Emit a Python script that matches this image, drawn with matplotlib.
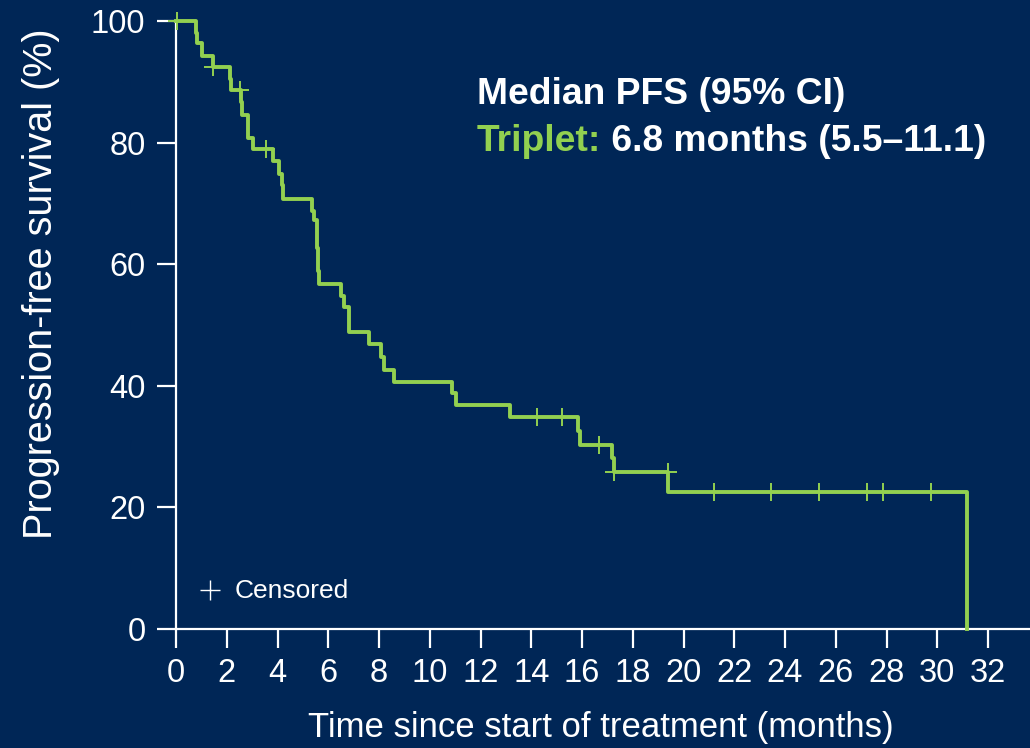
import numpy as np
import matplotlib
matplotlib.use('Agg')
from matplotlib import pyplot as plt

# Kaplan-Meier step curve: event times (months) and survival (%) after each drop
event_times = [0.0, 0.78, 0.82, 1.01, 1.44, 2.13, 2.17, 2.55, 2.62, 2.85, 3.05,
               3.83, 4.06, 4.19, 4.23, 5.34, 5.45, 5.54, 5.60, 5.64, 6.49, 6.64,
               6.82, 7.62, 8.08, 8.21, 8.59, 10.86, 11.05, 13.16, 15.83, 15.94,
               17.20, 17.25, 19.40, 31.19]
survival = [100.0, 98.0, 96.3, 94.3, 92.4, 90.5, 88.6, 86.7, 84.6, 80.8, 78.9,
            76.9, 74.9, 73.0, 70.8, 68.8, 67.2, 62.7, 58.8, 56.8, 54.8, 52.9,
            48.8, 46.9, 44.8, 42.6, 40.7, 38.8, 36.8, 34.8, 32.6, 30.3,
            28.1, 25.8, 22.6, 0.0]

# censoring times (months)
censor_times = [0.03, 1.47, 2.52, 3.55, 14.21, 15.23, 16.67, 17.28, 19.37,
                21.19, 23.45, 25.33, 27.22, 27.86, 29.74]

x_ticks = list(range(0, 33, 2))
y_ticks = [0, 20, 40, 60, 80, 100]

BG = '#002656'
GREEN = '#92D050'
WHITE = 'white'

plt.rcParams['font.family'] = ['Liberation Sans', 'DejaVu Sans']

fig = plt.figure(figsize=(10.30, 7.48), dpi=100, facecolor=BG)
ax = fig.add_axes([176 / 1030, 119 / 748, 854 / 1030, 608 / 748])
ax.set_facecolor(BG)

# step curve, extended to the last event
ax.step(event_times, survival, where='post', color=GREEN, lw=2.8,
        clip_on=False, zorder=3)

# censor marks sit on the curve level at their time
t_arr = np.array(event_times)
s_arr = np.array(survival)
idx = np.searchsorted(t_arr, censor_times, side='right') - 1
censor_y = s_arr[idx]
ax.plot(censor_times, censor_y, linestyle='none', marker='+', color=GREEN,
        markersize=13.5, mew=1.4, clip_on=False, zorder=4)

ax.set_xlim(0, 854 / 25.375)
ax.set_ylim(0, 100)
ax.set_xticks(x_ticks)
ax.set_yticks(y_ticks)

for side in ['top', 'right']:
    ax.spines[side].set_visible(False)
for side in ['left', 'bottom']:
    ax.spines[side].set_color(WHITE)
    ax.spines[side].set_linewidth(1.6)

ax.tick_params(axis='both', colors=WHITE, length=14, width=1.6,
               direction='out', labelsize=23.5)
ax.tick_params(axis='x', pad=7)
ax.tick_params(axis='y', pad=8)

# axis titles
fig.text(601 / 1030, 1 - 727 / 748, 'Time since start of treatment (months)',
         color=WHITE, fontsize=25, ha='center', va='center')
fig.text(41 / 1030, 1 - 284 / 748, 'Progression-free survival (%)',
         color=WHITE, fontsize=28.5, ha='center', va='center', rotation=90)

# median PFS annotation
fig.text(477 / 1030, 1 - 104 / 748, 'Median PFS (95% CI)', color=WHITE,
         fontsize=26.8, fontweight='bold', ha='left', va='baseline')
t1 = fig.text(477 / 1030, 1 - 151 / 748, 'Triplet:', color=GREEN,
              fontsize=26.8, fontweight='bold', ha='left', va='baseline')
ax.annotate(' 6.8 months (5.5\u201311.1)', xy=(1, 0), xycoords=t1,
            color=WHITE, fontsize=26.8, fontweight='bold',
            ha='left', va='bottom')

# censored legend entry
ax.plot([210 / 1030], [1 - 590 / 748], transform=fig.transFigure,
        marker='+', color=WHITE, markersize=14, mew=1.0, clip_on=False)
fig.text(235 / 1030, 1 - 591 / 748, 'Censored', color=WHITE, fontsize=19,
         ha='left', va='center')

fig.savefig('out.png', dpi=100, facecolor=BG)
